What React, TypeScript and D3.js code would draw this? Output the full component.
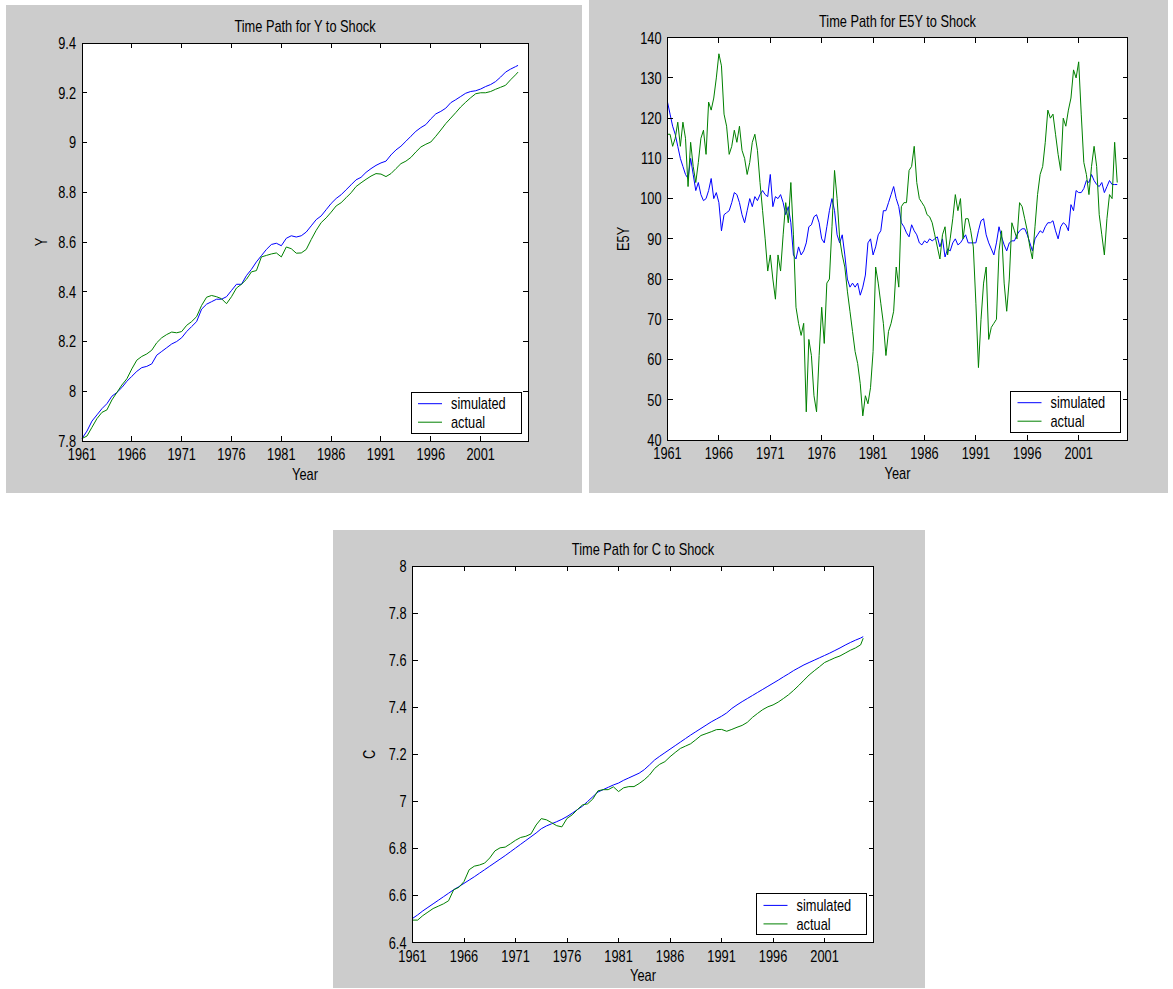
import React from 'react';
import * as d3 from 'd3';

// ---------- data ----------
const yearTicks = [1961, 1966, 1971, 1976, 1981, 1986, 1991, 1996, 2001];
const xDomain = [1961, 2005.75];
const halfYearDates = d3.range(88).map((i) => 1961 + i * 0.5).concat([2004.75]);
const quarterDates = d3.range(176).map((i) => 1961 + i * 0.25);
const legendLabels = ['simulated', 'actual'];

// Y (semi-annual, last point 2004Q4)
const ySimulated = [
  7.81, 7.84, 7.88, 7.905, 7.93, 7.95, 7.98, 7.995, 8.015, 8.04,
  8.06, 8.08, 8.095, 8.10, 8.11, 8.145, 8.16, 8.175, 8.19, 8.20,
  8.215, 8.24, 8.26, 8.28, 8.33, 8.35, 8.36, 8.37, 8.37, 8.38,
  8.405, 8.43, 8.43, 8.465, 8.49, 8.52, 8.545, 8.57, 8.59, 8.595,
  8.585, 8.615, 8.625, 8.62, 8.625, 8.64, 8.665, 8.69, 8.705, 8.73,
  8.755, 8.775, 8.79, 8.81, 8.83, 8.85, 8.86, 8.88, 8.895, 8.908,
  8.918, 8.925, 8.95, 8.97, 8.985, 9.005, 9.025, 9.045, 9.06, 9.072,
  9.095, 9.115, 9.125, 9.138, 9.16, 9.172, 9.185, 9.198, 9.205, 9.208,
  9.215, 9.225, 9.233, 9.245, 9.263, 9.283, 9.295, 9.305, 9.31,
];
const yActual = [
  7.81, 7.82, 7.855, 7.89, 7.915, 7.925, 7.965, 7.995, 8.025, 8.05,
  8.09, 8.125, 8.14, 8.15, 8.165, 8.195, 8.215, 8.228, 8.238, 8.235,
  8.24, 8.265, 8.28, 8.30, 8.345, 8.378, 8.385, 8.38, 8.372, 8.352,
  8.38, 8.415, 8.43, 8.45, 8.48, 8.485, 8.54, 8.546, 8.552, 8.556,
  8.54, 8.58, 8.573, 8.555, 8.556, 8.57, 8.61, 8.647, 8.678, 8.697,
  8.72, 8.745, 8.758, 8.778, 8.798, 8.823, 8.838, 8.852, 8.865, 8.875,
  8.873, 8.863, 8.875, 8.895, 8.915, 8.925, 8.94, 8.962, 8.982, 8.993,
  9.002, 9.025, 9.05, 9.076, 9.098, 9.12, 9.143, 9.162, 9.18, 9.196,
  9.2, 9.2, 9.205, 9.214, 9.222, 9.23, 9.252, 9.272, 9.283,
];

// E5Y (quarterly)
const e5ySimulated = [
  124, 121, 118, 116, 113, 110, 108, 106, 105, 110, 106, 102,
  104, 101, 99.5, 100, 102, 105, 100, 101.5, 99, 92, 96, 96.5,
  97, 99, 101.5, 101, 99, 96, 94, 97, 100, 98, 100.5, 99.5,
  101, 102, 101, 100.5, 106, 98, 100.5, 100, 101, 99, 96, 98,
  94, 86, 85, 88, 86, 87, 89, 93, 93.5, 95.5, 96, 94,
  90, 89, 93, 97, 100, 97, 91, 89, 91, 86, 80, 78,
  79, 78, 79, 76, 78, 81, 89, 90, 86, 88, 91, 92,
  97, 97, 99, 101, 103, 100, 98, 94, 93, 91.5, 90.5, 93.5,
  92, 91, 89, 88.5, 89.5, 89, 90, 89.5, 90, 90.5, 88, 90,
  85.5, 87.5, 87, 89, 90, 88.5, 89, 90, 91, 89, 89, 89,
  89, 92, 94.5, 95, 91, 89, 87.5, 86, 89, 93, 90.5, 88.5,
  87, 89, 89.5, 89.5, 91, 92, 92.5, 92.5, 91, 89, 87, 90,
  91, 92, 91.5, 93, 94, 94, 94.5, 92, 90, 93, 94, 93.5,
  92, 98.5, 97, 102, 101.5, 101.5, 102.5, 104.5, 104, 106, 104.5, 103.5,
  103, 104, 101.5, 103, 104.5, 103.5, 103.5, 103.5,
];
const e5yActual = [
  116, 116, 113, 115, 119, 113, 119, 115, 103, 114, 108, 104,
  109, 115, 117, 111, 124, 122, 125, 130, 136, 133, 121, 118,
  111, 113, 117, 114, 118, 112, 110, 106, 109, 114, 116, 112,
  104, 97, 90, 82, 86, 80, 75, 86, 82, 91, 99, 94,
  104, 91, 73, 69, 66, 69, 47, 65, 61, 51, 47, 61,
  73, 64, 79, 80, 93, 107, 100, 90, 86, 83, 77, 72,
  67, 62, 59, 54, 46, 51, 49, 53, 62, 83, 79, 74,
  69, 61, 67, 69, 72, 83, 78, 98, 99, 99, 107, 108,
  113, 104, 100, 99, 98, 96, 95.5, 94, 91, 88, 85, 91,
  93, 86, 90, 95, 101, 97, 100, 90, 95, 95, 92, 88,
  74, 58, 70, 79, 83, 65, 68, 69, 70, 87, 92, 79,
  72, 80, 94, 92, 90, 99, 98, 95, 92, 88, 85, 93,
  101, 106, 108, 114, 122, 120, 121, 116, 111, 107, 120, 118,
  122, 125, 132, 130, 134, 121, 109, 106, 101, 108, 113, 108,
  96, 91, 86, 95, 101, 100, 114, 104,
];

// C (semi-annual, last point 2004Q4)
const cSimulated = [
  6.503, 6.518, 6.535, 6.55, 6.565, 6.58, 6.595, 6.61, 6.625, 6.638,
  6.652, 6.666, 6.68, 6.695, 6.71, 6.725, 6.74, 6.755, 6.77, 6.786,
  6.802, 6.818, 6.834, 6.85, 6.866, 6.884, 6.896, 6.905, 6.914, 6.924,
  6.936, 6.95, 6.965, 6.98, 7.0, 7.02, 7.04, 7.05, 7.06, 7.07,
  7.078, 7.09, 7.1, 7.11, 7.12, 7.135, 7.155, 7.176, 7.192, 7.207,
  7.222, 7.237, 7.252, 7.267, 7.282, 7.296, 7.31, 7.324, 7.338, 7.35,
  7.362, 7.376, 7.395, 7.41, 7.424, 7.437, 7.45, 7.463, 7.476, 7.489,
  7.502, 7.515, 7.529, 7.542, 7.556, 7.568, 7.58, 7.59, 7.6, 7.61,
  7.62, 7.63, 7.641, 7.652, 7.664, 7.675, 7.685, 7.694, 7.70,
];
const cActual = [
  6.496, 6.496, 6.515, 6.53, 6.545, 6.555, 6.565, 6.578, 6.625, 6.635,
  6.66, 6.71, 6.725, 6.73, 6.738, 6.76, 6.79, 6.803, 6.806, 6.82,
  6.835, 6.847, 6.852, 6.862, 6.9, 6.927, 6.922, 6.91, 6.897, 6.892,
  6.928, 6.943, 6.965, 6.985, 6.99, 7.01, 7.045, 7.05, 7.05, 7.062,
  7.042, 7.058, 7.063, 7.063, 7.076, 7.092, 7.112, 7.14, 7.158, 7.169,
  7.19, 7.208, 7.225, 7.235, 7.245, 7.262, 7.28, 7.288, 7.296, 7.305,
  7.306, 7.298, 7.306, 7.315, 7.323, 7.336, 7.357, 7.374, 7.39, 7.402,
  7.41, 7.422, 7.437, 7.453, 7.472, 7.493, 7.515, 7.537, 7.555, 7.572,
  7.59, 7.6, 7.61, 7.618, 7.63, 7.642, 7.652, 7.665, 7.693,
];

const yTicksY = [7.8, 8, 8.2, 8.4, 8.6, 8.8, 9, 9.2, 9.4];
const yTicksE5Y = [40, 50, 60, 70, 80, 90, 100, 110, 120, 130, 140];
const yTicksC = [6.4, 6.6, 6.8, 7, 7.2, 7.4, 7.6, 7.8, 8];

// ---------- drawing ----------
const FONT = "'Liberation Sans', Arial, Helvetica, sans-serif";
const SIM_COLOR = '#0000ff';
const ACT_COLOR = '#008000';

function Txt({ x, y, anchor = 'start', rotate = false, children }: any) {
  return (
    <text
      transform={`translate(${x},${y})${rotate ? ' rotate(-90)' : ''} scale(0.8,1)`}
      textAnchor={anchor}
      fontSize={16}
      fontFamily={FONT}
      fill="#000"
    >
      {children}
    </text>
  );
}

function fmt(v: number) {
  return String(+v.toFixed(1));
}

function Panel(props: any) {
  const { bg, plot, title, ylabel, ylabelX, yTicks, dates, sim, act } = props;
  const x = d3.scaleLinear().domain(xDomain).range([plot.l, plot.r]);
  const y = d3
    .scaleLinear()
    .domain([yTicks[0], yTicks[yTicks.length - 1]])
    .range([plot.b, plot.t]);
  const line = d3
    .line<number>()
    .x((_, i) => x(dates[i]))
    .y((d) => y(d));
  const tl = 5;
  const cx = (plot.l + plot.r) / 2;
  const cy = (plot.t + plot.b) / 2;
  const lg = { w: 110, h: 41 };
  const lx = plot.r - 7 - lg.w;
  const ly = plot.b - 8 - lg.h;
  return (
    <g>
      <rect x={bg.x} y={bg.y} width={bg.w} height={bg.h} fill="#cccccc" />
      <rect x={plot.l} y={plot.t} width={plot.r - plot.l} height={plot.b - plot.t} fill="#fff" />
      <path d={line(sim) || ''} fill="none" stroke={SIM_COLOR} strokeWidth={1} />
      <path d={line(act) || ''} fill="none" stroke={ACT_COLOR} strokeWidth={1} />
      <g stroke="#000" strokeWidth={1} shapeRendering="crispEdges">
        <rect x={plot.l} y={plot.t} width={plot.r - plot.l} height={plot.b - plot.t} fill="none" />
        {yearTicks.map((t) => (
          <g key={'x' + t}>
            <line x1={x(t)} x2={x(t)} y1={plot.b} y2={plot.b - tl} />
            <line x1={x(t)} x2={x(t)} y1={plot.t} y2={plot.t + tl} />
          </g>
        ))}
        {yTicks.map((t: number) => (
          <g key={'y' + t}>
            <line x1={plot.l} x2={plot.l + tl} y1={y(t)} y2={y(t)} />
            <line x1={plot.r} x2={plot.r - tl} y1={y(t)} y2={y(t)} />
          </g>
        ))}
      </g>
      {yearTicks.map((t) => (
        <Txt key={'xl' + t} x={x(t)} y={plot.b + 19} anchor="middle">
          {t}
        </Txt>
      ))}
      {yTicks.map((t: number) => (
        <Txt key={'yl' + t} x={plot.l - 6} y={y(t) + 5.8} anchor="end">
          {fmt(t)}
        </Txt>
      ))}
      <Txt x={cx} y={plot.t - 11} anchor="middle">
        {title}
      </Txt>
      <Txt x={cx} y={plot.b + 38.5} anchor="middle">
        Year
      </Txt>
      <Txt x={ylabelX} y={cy} anchor="middle" rotate>
        {ylabel}
      </Txt>
      <g>
        <rect x={lx} y={ly} width={lg.w} height={lg.h} fill="#fff" stroke="#000" strokeWidth={1} shapeRendering="crispEdges" />
        {legendLabels.map((lab, i) => (
          <g key={lab}>
            <line
              x1={lx + 7}
              x2={lx + 31}
              y1={ly + 11.7 + i * 18.5}
              y2={ly + 11.7 + i * 18.5}
              stroke={i === 0 ? SIM_COLOR : ACT_COLOR}
              strokeWidth={1}
            />
            <Txt x={lx + 40} y={ly + 17.3 + i * 18.5}>
              {lab}
            </Txt>
          </g>
        ))}
      </g>
    </g>
  );
}

export default function App() {
  return (
    <svg
      width={1173}
      height={989}
      style={{ position: 'absolute', left: 0, top: 0, background: '#fff' }}
    >
      <rect x={0} y={0} width={1173} height={989} fill="#fff" />
      <Panel
        bg={{ x: 6, y: 5, w: 576, h: 488 }}
        plot={{ l: 82, t: 43, r: 528, b: 441 }}
        title="Time Path for Y to Shock"
        ylabel="Y"
        ylabelX={47}
        yTicks={yTicksY}
        dates={halfYearDates}
        sim={ySimulated}
        act={yActual}
      />
      <Panel
        bg={{ x: 589, y: 0, w: 579, h: 493 }}
        plot={{ l: 667.5, t: 37.7, r: 1127.5, b: 440 }}
        title="Time Path for E5Y to Shock"
        ylabel="E5Y"
        ylabelX={629}
        yTicks={yTicksE5Y}
        dates={quarterDates}
        sim={e5ySimulated}
        act={e5yActual}
      />
      <Panel
        bg={{ x: 333, y: 530, w: 592, h: 458 }}
        plot={{ l: 412.5, t: 566, r: 873.5, b: 942.7 }}
        title="Time Path for C to Shock"
        ylabel="C"
        ylabelX={375}
        yTicks={yTicksC}
        dates={halfYearDates}
        sim={cSimulated}
        act={cActual}
      />
    </svg>
  );
}
